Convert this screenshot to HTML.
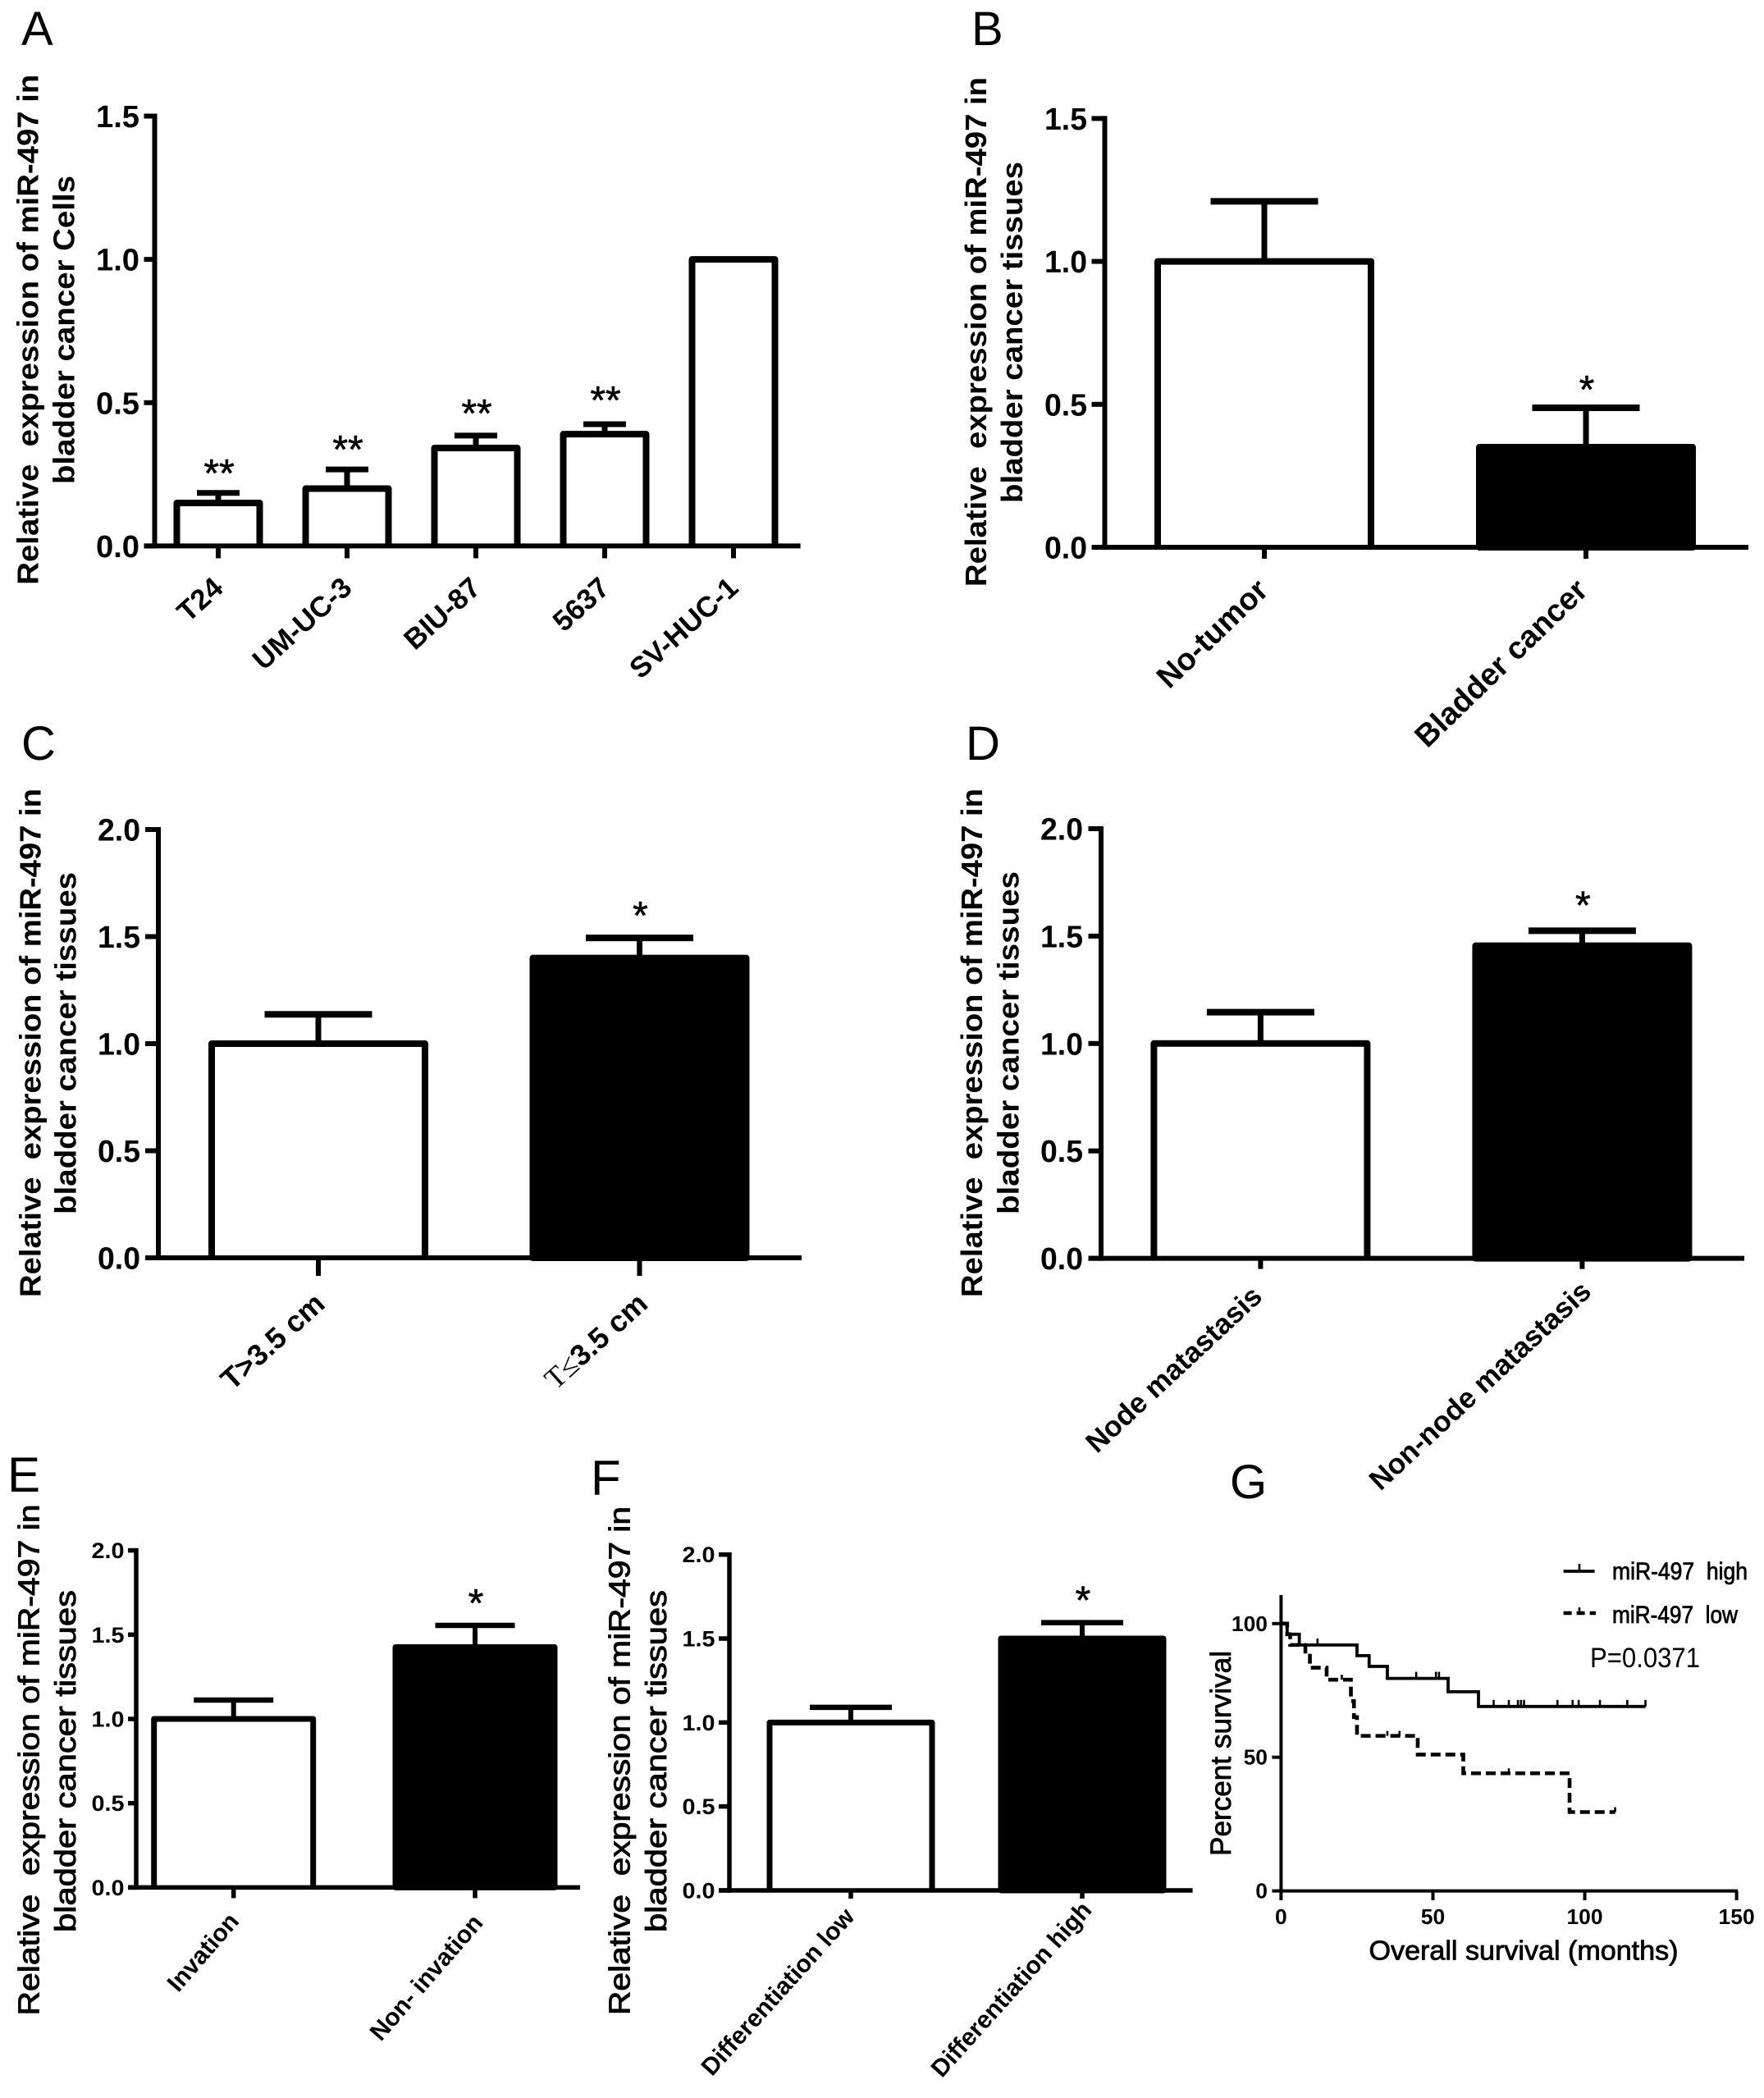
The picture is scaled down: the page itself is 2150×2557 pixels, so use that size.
<!DOCTYPE html>
<html lang="en">
<head>
<meta charset="utf-8">
<title>miR-497 expression in bladder cancer</title>
<style>
html,body{margin:0;padding:0;background:#fff;}
svg{display:block;}
text{font-family:"Liberation Sans",sans-serif;fill:#000;}
.panel-letter{font-size:58px;}
.ytitle{font-size:36px;font-weight:bold;}
</style>
</head>
<body>
<svg id="figure" xmlns="http://www.w3.org/2000/svg" width="2150" height="2557" viewBox="0 0 2150 2557">
  <rect x="0" y="0" width="2150" height="2557" fill="#fff"/>

  <text class="panel-letter" x="26" y="55">A</text>
  <text class="panel-letter" x="1184" y="55">B</text>
  <text class="panel-letter" x="26" y="926">C</text>
  <text class="panel-letter" x="1177" y="926">D</text>
  <text class="panel-letter" x="9" y="1818" style="font-size:60px">E</text>
  <text class="panel-letter" x="720" y="1822" style="font-size:60px">F</text>
  <text class="panel-letter" x="1499" y="1826">G</text>

  <text class="ytitle" text-anchor="middle" x="46.5" y="401.7" transform="rotate(-90 46.5 401.7)" textLength="622" lengthAdjust="spacingAndGlyphs">Relative&#160; expression of miR-497 in</text>
  <text class="ytitle" text-anchor="middle" x="90.5" y="402" transform="rotate(-90 90.5 402)" textLength="376" lengthAdjust="spacingAndGlyphs">bladder cancer Cells</text>

  <text class="ytitle" text-anchor="middle" x="1202" y="404.5" transform="rotate(-90 1202 404.5)" textLength="621" lengthAdjust="spacingAndGlyphs">Relative&#160; expression of miR-497 in</text>
  <text class="ytitle" text-anchor="middle" x="1246" y="405" transform="rotate(-90 1246 405)" textLength="416" lengthAdjust="spacingAndGlyphs">bladder cancer tissues</text>

  <text class="ytitle" text-anchor="middle" x="49.4" y="1271" transform="rotate(-90 49.4 1271)" textLength="620" lengthAdjust="spacingAndGlyphs">Relative&#160; expression of miR-497 in</text>
  <text class="ytitle" text-anchor="middle" x="92.5" y="1271.5" transform="rotate(-90 92.5 1271.5)" textLength="417" lengthAdjust="spacingAndGlyphs">bladder cancer tissues</text>

  <text class="ytitle" text-anchor="middle" x="1197" y="1271" transform="rotate(-90 1197 1271)" textLength="620" lengthAdjust="spacingAndGlyphs">Relative&#160; expression of miR-497 in</text>
  <text class="ytitle" text-anchor="middle" x="1241.6" y="1271" transform="rotate(-90 1241.6 1271)" textLength="418" lengthAdjust="spacingAndGlyphs">bladder cancer tissues</text>

  <text class="ytitle" text-anchor="middle" x="47.3" y="2145" transform="rotate(-90 47.3 2145)" textLength="623" lengthAdjust="spacingAndGlyphs" style="font-weight:normal;stroke:#000;stroke-width:.9px">Relative&#160; expression of miR-497 in</text>
  <text class="ytitle" text-anchor="middle" x="91.8" y="2146.5" transform="rotate(-90 91.8 2146.5)" textLength="417" lengthAdjust="spacingAndGlyphs" style="font-weight:normal;stroke:#000;stroke-width:.9px">bladder cancer tissues</text>

  <text class="ytitle" text-anchor="middle" x="767.3" y="2146" transform="rotate(-90 767.3 2146)" textLength="620" lengthAdjust="spacingAndGlyphs" style="font-weight:normal;stroke:#000;stroke-width:.9px">Relative&#160; expression of miR-497 in</text>
  <text class="ytitle" text-anchor="middle" x="811.8" y="2146.5" transform="rotate(-90 811.8 2146.5)" textLength="417" lengthAdjust="spacingAndGlyphs" style="font-weight:normal;stroke:#000;stroke-width:.9px">bladder cancer tissues</text>

  <g id="charts"></g>
</svg>

<script>
// ---------- chart data ----------
const ticks15 = ['0.0', '0.5', '1.0', '1.5'];
const ticks20 = ['0.0', '0.5', '1.0', '1.5', '2.0'];

const aCategories = ['T24', 'UM-UC-3', 'BIU-87', '5637', 'SV-HUC-1'];
const aValues = [0.15, 0.2, 0.342, 0.39, 1.0];
const aErrorTops = [0.185, 0.267, 0.385, 0.425, null];
const aStars = ['**', '**', '**', '**', ''];

const bCategories = ['No-tumor', 'Bladder cancer'];
const bValues = [1.0, 0.35];
const bErrorTops = [1.21, 0.488];
const bStars = ['', '*'];

const cCategories = ['T>3.5 cm', 'T≤3.5 cm'];
const cValues = [1.0, 1.4];
const cErrorTops = [1.137, 1.494];
const cStars = ['', '*'];

const dCategories = ['Node matastasis', 'Non-node matastasis'];
const dValues = [1.0, 1.455];
const dErrorTops = [1.146, 1.525];
const dStars = ['', '*'];

const eCategories = ['Invation', 'Non- invation'];
const eValues = [1.0, 1.426];
const eErrorTops = [1.112, 1.555];
const eStars = ['', '*'];

const fCategories = ['Differentiation low', 'Differentiation high'];
const fValues = [1.0, 1.5];
const fErrorTops = [1.09, 1.595];
const fStars = ['', '*'];

const survivalYTicks = [0, 50, 100];
const survivalXTicks = [0, 50, 100, 150];
const highTimes = [0, 2, 6, 25, 29, 35, 55, 65, 120];
const highSurvival = [100, 96, 92, 88, 84, 79.5, 74.5, 69, 69];
const highCensored = [12, 44.5, 51, 52, 70, 75, 78, 79, 80, 91, 96, 98, 105, 114, 120];
const lowTimes = [0, 2, 3, 8, 9.5, 15, 23, 24, 25, 45, 60, 95, 110];
const lowSurvival = [100, 96, 92, 88, 83.5, 79, 71, 65, 58, 51, 44, 29.5, 29.5];
const lowCensored = [20, 35, 39, 75, 110];

// ---------- helpers ----------
const SVGNS = 'http://www.w3.org/2000/svg';
const root = document.getElementById('charts');
function mk(tag, attrs, parent) {
  const node = document.createElementNS(SVGNS, tag);
  for (const k in attrs) node.setAttribute(k, attrs[k]);
  parent.appendChild(node);
  return node;
}
function slug(s) {
  return s.toLowerCase().replace(/[^a-z0-9]+/g, '-').replace(/^-|-$/g, '') || 'item';
}

// ---------- bar panel ----------
function drawBarPanel(id, categories, values, errorTops, stars, ticks, L) {
  const g = mk('g', {}, root);
  
  

  const yMax = Number(ticks[ticks.length - 1]);
  const yScale = v => L.y0 - (v / yMax) * (L.y0 - L.yTop);
  const xScale = i => L.firstCenter + i * L.step;

  categories.forEach((cat, i) => {
    const cx = xScale(i);
    const top = yScale(values[i]);
    if (errorTops[i] !== null) {
      const ey = yScale(errorTops[i]);
      const stem = mk('line', {x1: cx, x2: cx, y1: top, y2: ey, stroke: '#000', 'stroke-width': L.errW}, g);
      
      
      const cap = mk('line', {x1: cx - L.capW / 2, x2: cx + L.capW / 2, y1: ey, y2: ey, stroke: '#000', 'stroke-width': L.capH}, g);
      
      
    }
    const w = L.barW - L.barStroke;
    const filled = L.filled[i];
    const bar = mk('path', {
      d: 'M' + (cx - w / 2) + ' ' + L.y0 + ' V' + top + ' H' + (cx + w / 2) + ' V' + L.y0 + (filled ? ' Z' : ''),
      fill: filled ? '#000' : '#fff',
      stroke: '#000',
      'stroke-width': L.barStroke,
      'stroke-linejoin': 'round'
    }, g);
    
    

    const tick = mk('line', {x1: cx, x2: cx, y1: L.y0, y2: L.y0 + L.xTickLen, stroke: '#000', 'stroke-width': L.axisW}, g);
    
    

    const off = L.labelOffsets[i];
    const ax = cx + off[0];
    const ay = L.y0 + off[1];
    const label = mk('text', {
      x: ax, y: ay, 'text-anchor': 'end',
      transform: 'rotate(' + (-L.labelAngle) + ' ' + ax + ' ' + ay + ')',
      'font-size': L.labelSize,
      'font-weight': L.labelWeight
    }, g);
    
    
    if (cat.charAt(1) === '≤') {
      const serif = mk('tspan', {style: 'font-family:"Liberation Serif",serif;font-weight:normal'}, label);
      serif.textContent = cat.slice(0, 2);
      const rest = mk('tspan', {}, label);
      rest.textContent = cat.slice(2);
    } else {
      label.textContent = cat;
    }

    if (stars[i]) {
      const starY = yScale(errorTops[i]) - L.starGap[i];
      const star = mk('text', {x: cx + 1, y: starY + 27, 'text-anchor': 'middle', 'font-size': 48, stroke: '#000', 'stroke-width': 0.6}, g);
      
      
      star.textContent = stars[i];
    }
  });

  const yAxis = mk('line', {x1: L.yAxisX, x2: L.yAxisX, y1: L.yTop - L.axisW / 2, y2: L.y0 + L.axisW / 2, stroke: '#000', 'stroke-width': L.axisW}, g);
  
  
  const xAxis = mk('line', {x1: L.yAxisX - L.yTickLen, x2: L.xEnd, y1: L.y0, y2: L.y0, stroke: '#000', 'stroke-width': L.axisW}, g);
  
  

  ticks.forEach(t => {
    const y = yScale(Number(t));
    const tick = mk('line', {x1: L.yAxisX - L.yTickLen, x2: L.yAxisX, y1: y, y2: y, stroke: '#000', 'stroke-width': L.axisW}, g);
    
    
    const lab = mk('text', {
      x: L.yLabelRight, y: y + L.yLabelCap / 2, 'text-anchor': 'end',
      'font-size': L.yLabelSize, 'font-weight': 'bold',
      textLength: L.yLabelLen, lengthAdjust: 'spacingAndGlyphs'
    }, g);
    
    
    lab.textContent = t;
  });
}

drawBarPanel('a', aCategories, aValues, aErrorTops, aStars, ticks15, {
  yAxisX: 188.5, y0: 665.4, yTop: 141.5, xEnd: 975.6, firstCenter: 266, step: 157,
  barW: 109, barStroke: 8, errW: 7, capW: 52, capH: 7, axisW: 6,
  yTickLen: 13, xTickLen: 15, yLabelRight: 170, yLabelSize: 38, yLabelCap: 27, yLabelLen: 53,
  labelSize: 35, labelWeight: 'bold', labelAngle: 42,
  labelOffsets: [[8, 54], [8, 54], [8, 54], [8, 54], [8, 54]],
  filled: [false, false, false, false, false],
  starGap: [35, 35, 38, 40, 0]
});
drawBarPanel('b', bCategories, bValues, bErrorTops, bStars, ticks15, {
  yAxisX: 1346.5, y0: 667, yTop: 144.4, xEnd: 2131, firstCenter: 1541, step: 392,
  barW: 268, barStroke: 8, errW: 7, capW: 131, capH: 8, axisW: 6,
  yTickLen: 16, xTickLen: 14, yLabelRight: 1325, yLabelSize: 38, yLabelCap: 27, yLabelLen: 52,
  labelSize: 38, labelWeight: 'bold', labelAngle: 44,
  labelOffsets: [[7, 55], [4, 55]],
  filled: [false, true],
  starGap: [0, 33]
});
drawBarPanel('c', cCategories, cValues, cErrorTops, cStars, ticks20, {
  yAxisX: 193, y0: 1533, yTop: 1011, xEnd: 977, firstCenter: 388, step: 391.5,
  barW: 268, barStroke: 8, errW: 7, capW: 131, capH: 8, axisW: 6,
  yTickLen: 16, xTickLen: 22, yLabelRight: 171, yLabelSize: 38, yLabelCap: 27, yLabelLen: 52,
  labelSize: 36, labelWeight: 'bold', labelAngle: 42,
  labelOffsets: [[10, 59], [12, 59]],
  filled: [false, true],
  starGap: [0, 38]
});
drawBarPanel('d', dCategories, dValues, dErrorTops, dStars, ticks20, {
  yAxisX: 1342, y0: 1533.6, yTop: 1010, xEnd: 2126, firstCenter: 1536.4, step: 392,
  barW: 268, barStroke: 8, errW: 7, capW: 131, capH: 8, axisW: 6,
  yTickLen: 15.5, xTickLen: 13, yLabelRight: 1320, yLabelSize: 38, yLabelCap: 27, yLabelLen: 52,
  labelSize: 35, labelWeight: 'bold', labelAngle: 43,
  labelOffsets: [[4, 49], [13, 43]],
  filled: [false, true],
  starGap: [0, 42]
});
drawBarPanel('e', eCategories, eValues, eErrorTops, eStars, ticks20, {
  yAxisX: 166, y0: 2300.4, yTop: 1889.6, xEnd: 707, firstCenter: 284.7, step: 294.3,
  barW: 201, barStroke: 7, errW: 6, capW: 97, capH: 6.5, axisW: 5.5,
  yTickLen: 10, xTickLen: 13, yLabelRight: 151.5, yLabelSize: 27, yLabelCap: 19, yLabelLen: 40,
  labelSize: 30, labelWeight: 'bold', labelAngle: 49,
  labelOffsets: [[8, 42], [11, 44]],
  filled: [false, true],
  starGap: [0, 38]
});
drawBarPanel('f', fCategories, fValues, fErrorTops, fStars, ticks20, {
  yAxisX: 889, y0: 2304, yTop: 1894.7, xEnd: 1453.6, firstCenter: 1037, step: 282,
  barW: 205, barStroke: 7, errW: 6, capW: 100, capH: 6.5, axisW: 5.5,
  yTickLen: 13, xTickLen: 10, yLabelRight: 871.5, yLabelSize: 27, yLabelCap: 19, yLabelLen: 40,
  labelSize: 30, labelWeight: 'bold', labelAngle: 48,
  labelOffsets: [[6, 33], [13, 25]],
  filled: [false, true],
  starGap: [0, 38]
});

// ---------- survival panel ----------
(function drawSurvival() {
  const g = mk('g', {}, root);
  
  

  const X0 = 1561.4, XMAX = 2116.6, Y0 = 2304.6, Y100 = 1978.8, YTOP = 1944;
  const xS = t => X0 + (t / 150) * (XMAX - X0);
  const yS = v => Y0 - (v / 100) * (Y0 - Y100);

  function stepPath(times, vals) {
    let d = 'M' + xS(times[0]) + ' ' + yS(vals[0]);
    for (let i = 1; i < times.length; i++) {
      d += ' H' + xS(times[i]) + ' V' + yS(vals[i]);
    }
    return d;
  }
  function survivalAt(times, vals, t) {
    let v = vals[0];
    for (let i = 0; i < times.length; i++) if (times[i] <= t) v = vals[i];
    return v;
  }

  const high = mk('path', {d: stepPath(highTimes, highSurvival), fill: 'none', stroke: '#000', 'stroke-width': 3.8}, g);
  
  
  const low = mk('path', {d: stepPath(lowTimes, lowSurvival), fill: 'none', stroke: '#000', 'stroke-width': 4.6, 'stroke-dasharray': '12 6'}, g);
  
  

  highCensored.forEach(t => {
    const y = yS(survivalAt(highTimes, highSurvival, t));
    const m = mk('line', {x1: xS(t), x2: xS(t), y1: y, y2: y - 8, stroke: '#000', 'stroke-width': 2.6}, g);
    
    
  });
  lowCensored.forEach(t => {
    const y = yS(survivalAt(lowTimes, lowSurvival, t));
    const m = mk('line', {x1: xS(t), x2: xS(t), y1: y, y2: y - 6, stroke: '#000', 'stroke-width': 2.6}, g);
    
    
  });

  const yAxis = mk('line', {x1: X0, x2: X0, y1: YTOP, y2: Y0 + 2, stroke: '#000', 'stroke-width': 4}, g);
  
  
  const xAxis = mk('line', {x1: X0 - 2, x2: XMAX + 1.5, y1: Y0, y2: Y0, stroke: '#000', 'stroke-width': 4}, g);
  
  

  survivalYTicks.forEach(v => {
    const y = yS(v);
    const t = mk('line', {x1: X0 - 11, x2: X0, y1: y, y2: y, stroke: '#000', 'stroke-width': 4}, g);
    
    
    const lab = mk('text', {x: 1545, y: y + 9, 'text-anchor': 'end', 'font-size': 26, 'font-weight': 'bold', textLength: String(v).length * 14.7, lengthAdjust: 'spacingAndGlyphs'}, g);
    
    
    lab.textContent = String(v);
  });
  survivalXTicks.forEach(v => {
    const x = xS(v);
    const t = mk('line', {x1: x, x2: x, y1: Y0, y2: 2316, stroke: '#000', 'stroke-width': 4}, g);
    
    
    const lab = mk('text', {x: x, y: 2345, 'text-anchor': 'middle', 'font-size': 26, 'font-weight': 'bold', textLength: String(v).length * 14.7, lengthAdjust: 'spacingAndGlyphs'}, g);
    
    
    lab.textContent = String(v);
  });

  const yTitle = mk('text', {x: 1500, y: 2137, 'text-anchor': 'middle', transform: 'rotate(-90 1500 2137)', 'font-size': 35, textLength: 250, lengthAdjust: 'spacingAndGlyphs', stroke: '#000', 'stroke-width': 0.8}, g);
  
  
  yTitle.textContent = 'Percent survival';

  const xTitle = mk('text', {x: 1857, y: 2388.6, 'text-anchor': 'middle', 'font-size': 33, textLength: 377, lengthAdjust: 'spacingAndGlyphs', stroke: '#000', 'stroke-width': 0.8}, g);
  
  
  xTitle.textContent = 'Overall survival (months)';

  const legHigh = mk('line', {x1: 1905.6, x2: 1943.6, y1: 1915, y2: 1915, stroke: '#000', 'stroke-width': 3.8}, g);
  
  
  const legHighTick = mk('line', {x1: 1925, x2: 1925, y1: 1915, y2: 1906, stroke: '#000', 'stroke-width': 2.6}, g);
  
  
  const legHighText = mk('text', {x: 1965, y: 1925, 'font-size': 30, textLength: 165, lengthAdjust: 'spacingAndGlyphs', stroke: '#000', 'stroke-width': 0.8}, g);
  
  
  legHighText.textContent = 'miR-497\u00a0 high';

  const legLow = mk('line', {x1: 1905.6, x2: 1945, y1: 1966, y2: 1966, stroke: '#000', 'stroke-width': 4.6, 'stroke-dasharray': '10 6'}, g);
  
  
  const legLowTick = mk('line', {x1: 1925, x2: 1925, y1: 1966, y2: 1959, stroke: '#000', 'stroke-width': 2.6}, g);
  
  
  const legLowText = mk('text', {x: 1965, y: 1978, 'font-size': 30, textLength: 153, lengthAdjust: 'spacingAndGlyphs', stroke: '#000', 'stroke-width': 0.8}, g);
  
  
  legLowText.textContent = 'miR-497\u00a0 low';

  const pVal = mk('text', {x: 1938, y: 2032, 'font-size': 34, textLength: 134, lengthAdjust: 'spacingAndGlyphs'}, g);
  
  
  pVal.textContent = 'P=0.0371';
})();
</script>
</body>
</html>
